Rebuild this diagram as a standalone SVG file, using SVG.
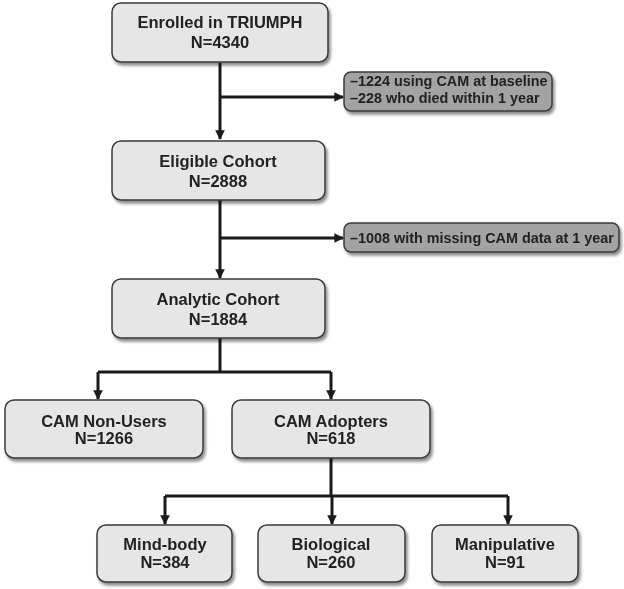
<svg xmlns="http://www.w3.org/2000/svg" width="624" height="589" viewBox="0 0 624 589">
<style>
.box{fill:#e6e6e6;stroke:#3a3a3a;stroke-width:1.5}
.gbox{fill:#a3a3a3;stroke:#3a3a3a;stroke-width:1.5}
.t{font-family:"Liberation Sans",Arial,sans-serif;font-weight:bold;font-size:16.5px;fill:#222;text-anchor:middle}
.g{font-family:"Liberation Sans",Arial,sans-serif;font-weight:bold;font-size:14.4px;fill:#222}
.c{fill:none;stroke:#1a1a1a;stroke-width:3}
.sh{fill:#000;opacity:0.25}
</style>
<defs>
<marker id="ah" viewBox="0 0 10 10" refX="9" refY="5" markerWidth="3.2" markerHeight="3.2" orient="auto" markerUnits="strokeWidth">
<path d="M0,0L10,5L0,10z" fill="#1a1a1a"/>
</marker>
<filter id="ds" x="-10%" y="-10%" width="130%" height="140%">
<feGaussianBlur in="SourceAlpha" stdDeviation="1.5"/>
<feOffset dx="1.5" dy="2.5"/>
<feComponentTransfer><feFuncA type="linear" slope="0.45"/></feComponentTransfer>
<feMerge><feMergeNode/><feMergeNode in="SourceGraphic"/></feMerge>
</filter>
</defs>
<g id="connectors">
<path class="c" d="M220,63V139" marker-end="url(#ah)"/>
<path class="c" d="M220,97H343" marker-end="url(#ah)"/>
<path class="c" d="M220,200V278" marker-end="url(#ah)"/>
<path class="c" d="M220,238H343" marker-end="url(#ah)"/>
<path class="c" d="M220,338V372"/>
<path class="c" d="M98,372H331"/>
<path class="c" d="M98,372V399" marker-end="url(#ah)"/>
<path class="c" d="M331,372V399" marker-end="url(#ah)"/>
<path class="c" d="M331,458V496"/>
<path class="c" d="M165,496H508"/>
<path class="c" d="M165,496V524" marker-end="url(#ah)"/>
<path class="c" d="M332,496V524" marker-end="url(#ah)"/>
<path class="c" d="M508,496V524" marker-end="url(#ah)"/>
</g>
<g id="enrolled" filter="url(#ds)">
<rect class="box" x="112" y="3" width="216" height="59" rx="9"/>
<text class="t" x="220" y="28">Enrolled in TRIUMPH</text>
<text class="t" x="220" y="48">N=4340</text>
</g>
<g id="excl1" filter="url(#ds)">
<rect class="gbox" x="344" y="72" width="208" height="39" rx="7"/>
<text class="g" x="350" y="86">–1224 using CAM at baseline</text>
<text class="g" x="350" y="103">–228 who died within 1 year</text>
</g>
<g id="eligible" filter="url(#ds)">
<rect class="box" x="112" y="141" width="213" height="59" rx="9"/>
<text class="t" x="218" y="167">Eligible Cohort</text>
<text class="t" x="218" y="187">N=2888</text>
</g>
<g id="excl2" filter="url(#ds)">
<rect class="gbox" x="344" y="223" width="275" height="29" rx="7"/>
<text class="g" x="350" y="243">–1008 with missing CAM data at 1 year</text>
</g>
<g id="analytic" filter="url(#ds)">
<rect class="box" x="112" y="279" width="213" height="59" rx="9"/>
<text class="t" x="218" y="305">Analytic Cohort</text>
<text class="t" x="218" y="325">N=1884</text>
</g>
<g id="nonusers" filter="url(#ds)">
<rect class="box" x="5" y="400" width="198" height="58" rx="9"/>
<text class="t" x="104" y="427">CAM Non-Users</text>
<text class="t" x="104" y="444">N=1266</text>
</g>
<g id="adopters" filter="url(#ds)">
<rect class="box" x="232" y="400" width="198" height="58" rx="9"/>
<text class="t" x="331" y="427">CAM Adopters</text>
<text class="t" x="331" y="444">N=618</text>
</g>
<g id="mindbody" filter="url(#ds)">
<rect class="box" x="97" y="525" width="135" height="57" rx="9"/>
<text class="t" x="165" y="550">Mind-body</text>
<text class="t" x="165" y="568">N=384</text>
</g>
<g id="biological" filter="url(#ds)">
<rect class="box" x="258" y="525" width="147" height="57" rx="9"/>
<text class="t" x="331" y="550">Biological</text>
<text class="t" x="331" y="568">N=260</text>
</g>
<g id="manipulative" filter="url(#ds)">
<rect class="box" x="432" y="525" width="146" height="57" rx="9"/>
<text class="t" x="505" y="550">Manipulative</text>
<text class="t" x="505" y="568">N=91</text>
</g>
</svg>
